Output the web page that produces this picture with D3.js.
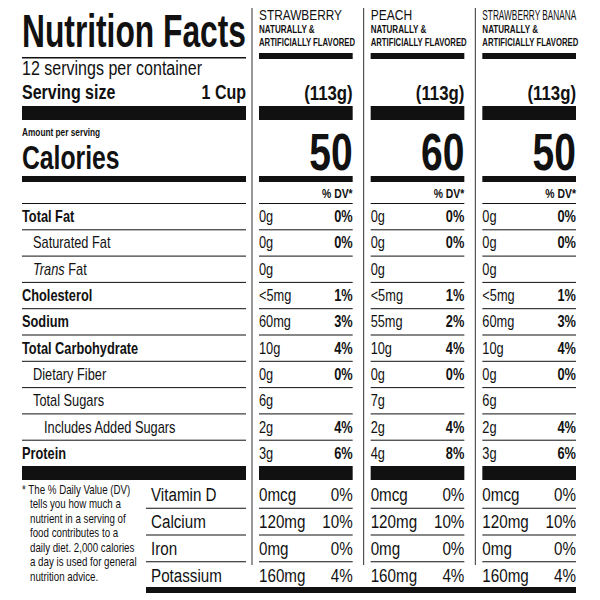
<!DOCTYPE html>
<html><head><meta charset="utf-8">
<script src="https://cdn.jsdelivr.net/npm/d3@7"></script>
<style>body{margin:0;background:#fff}text{font-family:"Liberation Sans Narrow","Liberation Sans",Arial,sans-serif;fill:#111}</style>
</head><body><div id="chart"></div>
<script>
const flavors = ["STRAWBERRY", "PEACH", "STRAWBERRY BANANA"];
const servingGrams = ["(113g)", "(113g)", "(113g)"];
const calories = [50, 60, 50];
const nutrients = ["Total Fat", "Saturated Fat", "Trans Fat", "Cholesterol", "Sodium", "Total Carbohydrate", "Dietary Fiber", "Total Sugars", "Includes Added Sugars", "Protein"];
const nutrientIndent = [0, 1, 1, 0, 0, 0, 1, 1, 2, 0];
const nutrientBold = [true, false, false, true, true, true, false, false, false, true];
const amounts = [
  ["0g", "0g", "0g", "<5mg", "60mg", "10g", "0g", "6g", "2g", "3g"],
  ["0g", "0g", "0g", "<5mg", "55mg", "10g", "0g", "7g", "2g", "4g"],
  ["0g", "0g", "0g", "<5mg", "60mg", "10g", "0g", "6g", "2g", "3g"]
];
const dailyValues = [
  ["0%", "0%", "", "1%", "3%", "4%", "0%", "", "4%", "6%"],
  ["0%", "0%", "", "1%", "2%", "4%", "0%", "", "4%", "8%"],
  ["0%", "0%", "", "1%", "3%", "4%", "0%", "", "4%", "6%"]
];
const vitamins = ["Vitamin D", "Calcium", "Iron", "Potassium"];
const vitaminAmounts = [
  ["0mcg", "120mg", "0mg", "160mg"],
  ["0mcg", "120mg", "0mg", "160mg"],
  ["0mcg", "120mg", "0mg", "160mg"]
];
const vitaminDV = [
  ["0%", "10%", "0%", "4%"],
  ["0%", "10%", "0%", "4%"],
  ["0%", "10%", "0%", "4%"]
];
const footnote = ["* The % Daily Value (DV)", "tells you how much a", "nutrient in a serving of", "food contributes to a", "daily diet. 2,000 calories", "a day is used for general", "nutrition advice."];

const svg = d3.select('#chart').append('svg').attr('width', 600).attr('height', 600);

const colX = d3.scaleBand().domain(flavors).range([252, 587]).paddingInner(0);
const colL = f => colX(f) + 7;
const colR = f => colX(f) + colX.bandwidth() - 11;
const leftL = 22, leftR = 246;

flavors.forEach(f => {
  svg.append('line').attr('x1', colX(f)).attr('x2', colX(f)).attr('y1', 8).attr('y2', 565)
    .attr('stroke', '#333').attr('stroke-width', 1);
});

function hbar(y, h, x1, x2) {
  svg.append('rect').attr('x', x1).attr('y', y).attr('width', x2 - x1).attr('height', h).attr('fill', '#111');
}
function allBars(y, h) {
  hbar(y, h, leftL, leftR);
  flavors.forEach(f => hbar(y, h, colL(f), colR(f)));
}
// all text horizontally condensed to mimic a narrow face
function txt(x, y, s, size, opts = {}) {
  const k = opts.stretch || 0.8;
  const t = svg.append('text').attr('x', x).attr('y', y).attr('font-size', size)
    .attr('font-weight', opts.bold ? 'bold' : 'normal')
    .attr('text-anchor', opts.anchor || 'start').text(s)
    .attr('transform', `translate(${x},0) scale(${k},1) translate(${-x},0)`);
  if (opts.len) t.attr('textLength', opts.len / k).attr('lengthAdjust', 'spacingAndGlyphs');
  return t;
}

// header
txt(leftL, 47, "Nutrition Facts", 46, {bold: true, len: 224});
hbar(57, 1.5, leftL, leftR);
txt(leftL, 75, "12 servings per container", 20, {len: 180});
txt(leftL, 99, "Serving size", 20, {bold: true});
txt(leftR, 99, "1 Cup", 20, {bold: true, anchor: 'end'});
flavors.forEach((f, i) => {
  txt(colL(f), 20, f, 15, {len: f.length > 12 ? 94 : f.length * 8.3});
  txt(colL(f), 33, "NATURALLY &", 11.5, {bold: true, stretch: 0.7});
  txt(colL(f), 46, "ARTIFICIALLY FLAVORED", 11.5, {bold: true, len: 96});
  hbar(53, 6, colL(f), colR(f));
  txt(colR(f), 100, servingGrams[i], 21, {bold: true, anchor: 'end'});
  txt(colR(f), 170, calories[i], 52, {bold: true, anchor: 'end', stretch: 0.75});
  txt(colR(f), 198, "% DV*", 13, {bold: true, anchor: 'end'});
});
allBars(106, 14);
txt(leftL, 136, "Amount per serving", 11.5, {bold: true, stretch: 0.72});
txt(leftL, 169, "Calories", 33, {bold: true, stretch: 0.75});
allBars(176, 6);

// nutrient rows
const rowY = d3.scaleBand().domain(nutrients).range([203, 466]);
nutrients.forEach((n, r) => {
  const y0 = rowY(n), yb = y0 + rowY.bandwidth() / 2 + 6;
  const x = leftL + (nutrientIndent[r] === 1 ? 11 : nutrientIndent[r] === 2 ? 22 : 0);
  const t = txt(x, yb, "", 16, {bold: nutrientBold[r]});
  if (n === "Trans Fat") {
    t.append('tspan').attr('font-style', 'italic').text("Trans");
    t.append('tspan').text(" Fat");
  } else t.text(n);
  flavors.forEach((f, i) => {
    txt(colL(f), yb, amounts[i][r], 16);
    if (dailyValues[i][r]) txt(colR(f), yb, dailyValues[i][r], 16, {bold: true, anchor: 'end'});
  });
  hbar(y0, 1, leftL, leftR);
  flavors.forEach(f => hbar(y0, 1, colL(f), colR(f)));
});
allBars(466, 14);

// vitamins
const vitY = d3.scaleBand().domain(vitamins).range([481, 588]);
vitamins.forEach((v, r) => {
  const y0 = vitY(v), yb = y0 + vitY.bandwidth() / 2 + 7;
  txt(151, yb, v, 19);
  flavors.forEach((f, i) => {
    txt(colL(f), yb, vitaminAmounts[i][r], 19);
    txt(colR(f), yb, vitaminDV[i][r], 19, {anchor: 'end'});
  });
  if (r > 0) {
    hbar(y0, 1, 146, leftR);
    flavors.forEach(f => hbar(y0, 1, colL(f), colR(f)));
  }
});
hbar(587, 6, 146, colR(flavors[2]));

footnote.forEach((line, i) => {
  txt(i === 0 ? 22 : 30, 494 + i * 14.5, line, 12.5, {stretch: 0.78});
});
</script></body></html>
